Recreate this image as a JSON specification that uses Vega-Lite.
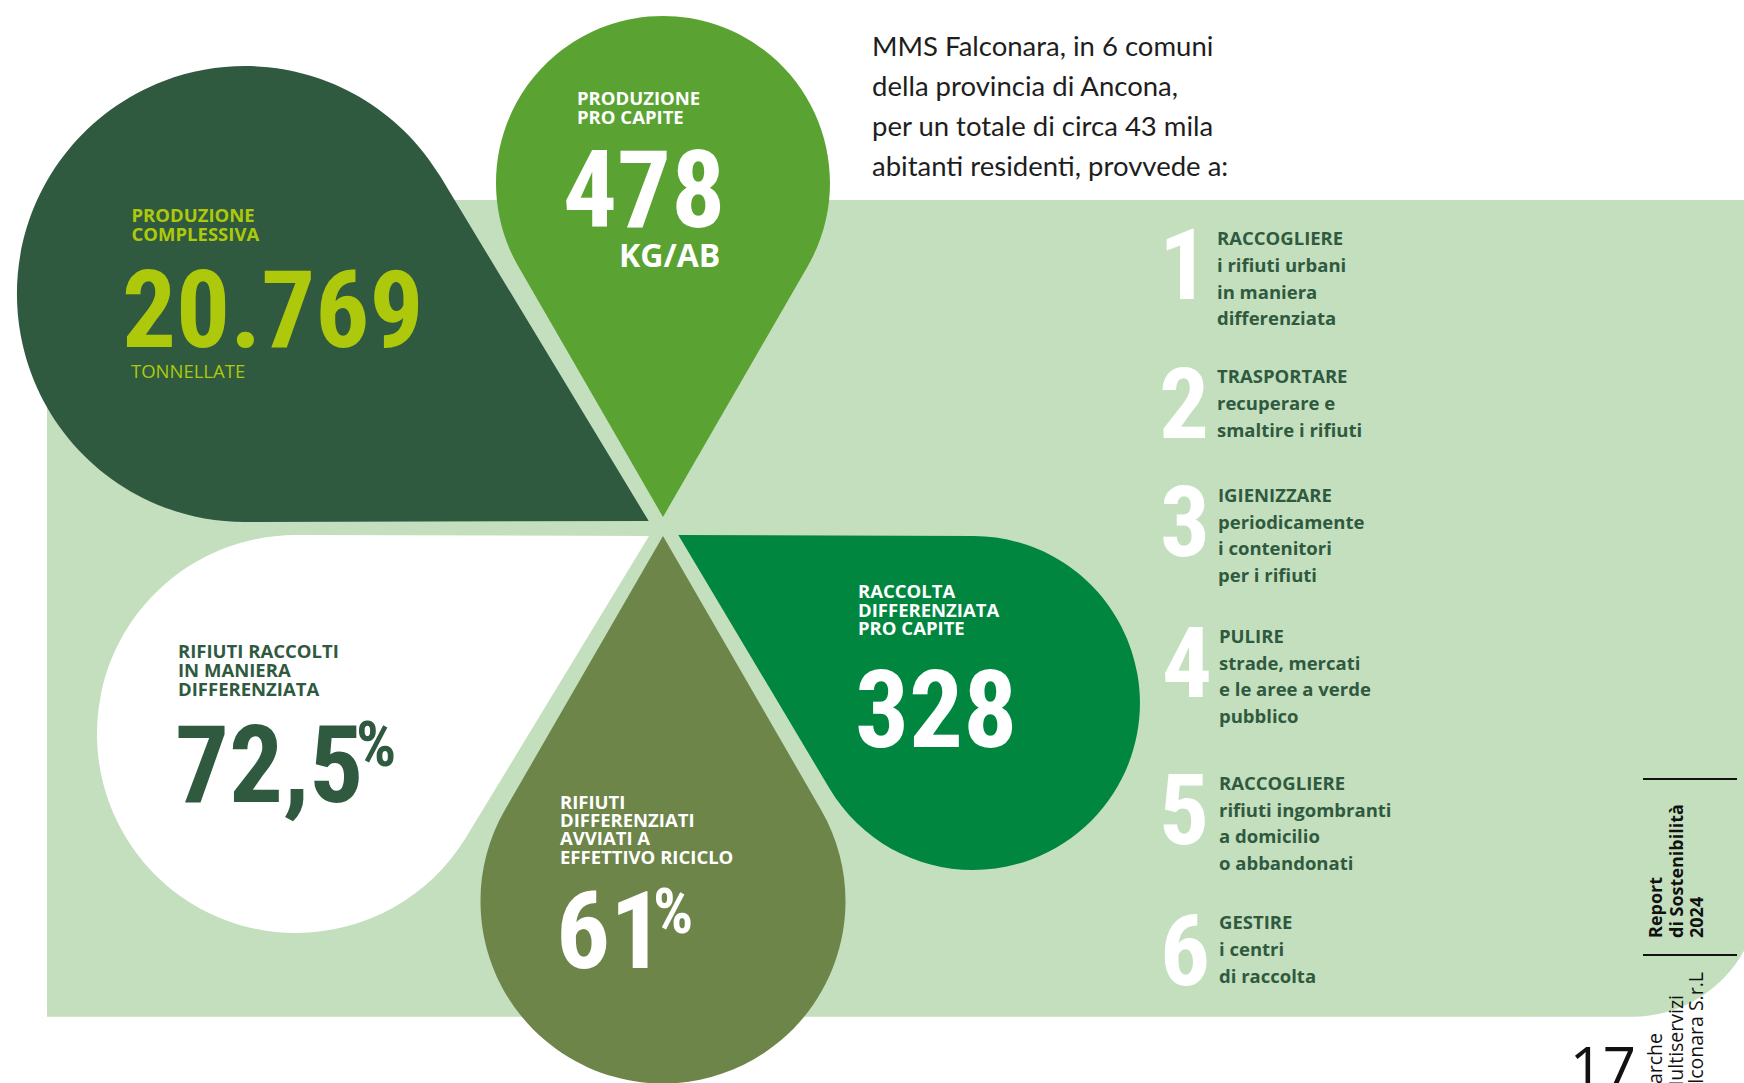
{
  "$schema": "https://vega.github.io/schema/vega-lite/v6.json",
  "width": 1744,
  "height": 1083,
  "autosize": {"type": "none"},
  "padding": 0,
  "background": "#ffffff",
  "config": {"view": {"stroke": null}},
  "datasets": {
    "panel": [{"x": 47, "x2": 1760, "y": 200, "y2": 1016.7}],
    "petals": [
      {"petal": "Produzione complessiva", "x": 245, "y": 294},
      {"petal": "Produzione pro capite", "x": 663, "y": 183},
      {"petal": "Raccolta differenziata pro capite", "x": 973, "y": 703},
      {"petal": "Rifiuti raccolti in maniera differenziata", "x": 296, "y": 734},
      {"petal": "Rifiuti differenziati avviati a riciclo", "x": 663, "y": 901}
    ],
    "statLabels": [
      {"petal": "Produzione complessiva", "label": "PRODUZIONE", "x": 131.5, "y": 222},
      {"petal": "Produzione complessiva", "label": "COMPLESSIVA", "x": 131.5, "y": 241},
      {"petal": "Produzione pro capite", "label": "PRODUZIONE", "x": 577, "y": 105},
      {"petal": "Produzione pro capite", "label": "PRO CAPITE", "x": 577, "y": 124},
      {"petal": "Raccolta differenziata pro capite", "label": "RACCOLTA", "x": 858, "y": 598.3},
      {"petal": "Raccolta differenziata pro capite", "label": "DIFFERENZIATA", "x": 858, "y": 616.6},
      {"petal": "Raccolta differenziata pro capite", "label": "PRO CAPITE", "x": 858, "y": 635},
      {"petal": "Rifiuti raccolti in maniera differenziata", "label": "RIFIUTI RACCOLTI", "x": 178, "y": 658.4},
      {"petal": "Rifiuti raccolti in maniera differenziata", "label": "IN MANIERA", "x": 178, "y": 677.4},
      {"petal": "Rifiuti raccolti in maniera differenziata", "label": "DIFFERENZIATA", "x": 178, "y": 696.2},
      {"petal": "Rifiuti differenziati avviati a riciclo", "label": "RIFIUTI", "x": 560, "y": 808.7},
      {"petal": "Rifiuti differenziati avviati a riciclo", "label": "DIFFERENZIATI", "x": 560, "y": 827},
      {"petal": "Rifiuti differenziati avviati a riciclo", "label": "AVVIATI A", "x": 560, "y": 845.3},
      {"petal": "Rifiuti differenziati avviati a riciclo", "label": "EFFETTIVO RICICLO", "x": 560, "y": 864}
    ],
    "bigNumbers": [
      {"petal": "Produzione complessiva", "label": "20.769", "x": 122, "y": 347},
      {"petal": "Produzione pro capite", "label": "478", "x": 563, "y": 227},
      {"petal": "Raccolta differenziata pro capite", "label": "328", "x": 855, "y": 747},
      {"petal": "Rifiuti raccolti in maniera differenziata", "label": "72,5", "x": 175, "y": 801.5},
      {"petal": "Rifiuti differenziati avviati a riciclo", "label": "61", "x": 556, "y": 968}
    ],
    "percents": [
      {"petal": "Rifiuti raccolti in maniera differenziata", "label": "%", "x": 356, "y": 766},
      {"petal": "Rifiuti differenziati avviati a riciclo", "label": "%", "x": 653, "y": 933}
    ],
    "units": [{"label": "KG/AB", "x": 619, "y": 267}],
    "tonnes": [{"label": "TONNELLATE", "x": 131, "y": 378}],
    "intro": [
      {"label": "MMS Falconara, in 6 comuni", "x": 872, "y": 56},
      {"label": "della provincia di Ancona,", "x": 872, "y": 96},
      {"label": "per un totale di circa 43 mila", "x": 872, "y": 136},
      {"label": "abitanti residenti, provvede a:", "x": 872, "y": 175.7}
    ],
    "listNumbers": [
      {"label": "1", "x": 1209, "y": 299},
      {"label": "2", "x": 1209, "y": 438},
      {"label": "3", "x": 1210, "y": 556},
      {"label": "4", "x": 1212, "y": 697},
      {"label": "5", "x": 1209, "y": 844},
      {"label": "6", "x": 1210, "y": 985}
    ],
    "listText": [
      {"label": "RACCOGLIERE", "x": 1217, "y": 245},
      {"label": "i rifiuti urbani", "x": 1217, "y": 272},
      {"label": "in maniera", "x": 1217, "y": 298.5},
      {"label": "differenziata", "x": 1217, "y": 325.2},
      {"label": "TRASPORTARE", "x": 1217, "y": 383},
      {"label": "recuperare e", "x": 1217, "y": 410},
      {"label": "smaltire i rifiuti", "x": 1217, "y": 437},
      {"label": "IGIENIZZARE", "x": 1218, "y": 502},
      {"label": "periodicamente", "x": 1218, "y": 528.6},
      {"label": "i contenitori", "x": 1218, "y": 555.3},
      {"label": "per i rifiuti", "x": 1218, "y": 582},
      {"label": "PULIRE", "x": 1219, "y": 643.3},
      {"label": "strade, mercati", "x": 1219, "y": 669.5},
      {"label": "e le aree a verde", "x": 1219, "y": 696.3},
      {"label": "pubblico", "x": 1219, "y": 723.2},
      {"label": "RACCOGLIERE", "x": 1219, "y": 790},
      {"label": "rifiuti ingombranti", "x": 1219, "y": 816.6},
      {"label": "a domicilio", "x": 1219, "y": 843.2},
      {"label": "o abbandonati", "x": 1219, "y": 870},
      {"label": "GESTIRE", "x": 1219, "y": 929.3},
      {"label": "i centri", "x": 1219, "y": 956},
      {"label": "di raccolta", "x": 1219, "y": 982.6}
    ],
    "footerBold": [
      {"label": "Report", "x": 1662, "y": 938},
      {"label": "di Sostenibilità", "x": 1683, "y": 938},
      {"label": "2024", "x": 1703, "y": 938}
    ],
    "footerRegular": [
      {"label": "Marche", "x": 1662, "y": 1033},
      {"label": "Multiservizi", "x": 1683, "y": 995},
      {"label": "Falconara S.r.L", "x": 1703, "y": 972}
    ],
    "pageNumber": [{"label": "17", "x": 1636, "y": 1089}],
    "rules": [
      {"x": 1643, "x2": 1737, "y": 779},
      {"x": 1643, "x2": 1737, "y": 955}
    ]
  },
  "encoding": {
    "x": {"field": "x", "type": "quantitative", "scale": {"domain": [0, 1744], "nice": false, "zero": false}, "axis": null},
    "y": {"field": "y", "type": "quantitative", "scale": {"domain": [0, 1083], "nice": false, "zero": false, "reverse": true}, "axis": null}
  },
  "resolve": {"scale": {"color": "independent"}},
  "layer": [
    {
      "data": {"name": "panel"},
      "mark": {"type": "rect", "color": "#C4DFBD", "cornerRadiusBottomRight": 128},
      "encoding": {
        "x2": {"field": "x2"},
        "y2": {"field": "y2"}
      }
    },
    {
      "data": {"name": "petals"},
      "mark": {"type": "point", "filled": true, "opacity": 1, "strokeWidth": 0, "size": 40000},
      "encoding": {
        "color": {
          "field": "petal", "type": "nominal", "legend": null,
          "scale": {
            "domain": ["Produzione complessiva", "Produzione pro capite", "Raccolta differenziata pro capite", "Rifiuti raccolti in maniera differenziata", "Rifiuti differenziati avviati a riciclo"],
            "range": ["#2F5A40", "#5AA333", "#00863F", "#FFFFFF", "#6E854A"]
          }
        },
        "shape": {
          "field": "petal", "type": "nominal", "legend": null,
          "scale": {
            "domain": ["Produzione complessiva", "Produzione pro capite", "Raccolta differenziata pro capite", "Rifiuti raccolti in maniera differenziata", "Rifiuti differenziati avviati a riciclo"],
            "range": [
              "M4.037,2.27 L0.006,2.28 A2.28,2.28 0 1 1 1.951,-1.179 Z",
              "M0,3.34 L-1.446,0.835 A1.67,1.67 0 1 1 1.446,0.835 Z",
              "M-2.947,-1.68 L0.006,-1.67 A1.67,1.67 0 1 1 -1.435,0.855 Z",
              "M3.53,-1.98 L1.701,1.033 A1.99,1.99 0 1 1 0.006,-1.99 Z",
              "M0,-3.65 L1.58,-0.9125 A1.825,1.825 0 1 1 -1.58,-0.9125 Z"
            ]
          }
        }
      }
    },
    {
      "data": {"name": "statLabels"},
      "mark": {"type": "text", "align": "left", "baseline": "alphabetic", "font": "Open Sans", "fontWeight": "bold", "fontSize": 18.5},
      "encoding": {
        "text": {"field": "label", "type": "nominal"},
        "color": {
          "field": "petal", "type": "nominal", "legend": null,
          "scale": {
            "domain": ["Produzione complessiva", "Produzione pro capite", "Raccolta differenziata pro capite", "Rifiuti raccolti in maniera differenziata", "Rifiuti differenziati avviati a riciclo"],
            "range": ["#AEC90B", "#FFFFFF", "#FFFFFF", "#2F5A40", "#FFFFFF"]
          }
        }
      }
    },
    {
      "data": {"name": "bigNumbers"},
      "mark": {"type": "text", "align": "left", "baseline": "alphabetic", "font": "Roboto Condensed, Liberation Sans, sans-serif", "fontWeight": "bold", "fontSize": 107},
      "encoding": {
        "text": {"field": "label", "type": "nominal"},
        "color": {
          "field": "petal", "type": "nominal", "legend": null,
          "scale": {
            "domain": ["Produzione complessiva", "Produzione pro capite", "Raccolta differenziata pro capite", "Rifiuti raccolti in maniera differenziata", "Rifiuti differenziati avviati a riciclo"],
            "range": ["#AEC90B", "#FFFFFF", "#FFFFFF", "#2F5A40", "#FFFFFF"]
          }
        }
      }
    },
    {
      "data": {"name": "percents"},
      "mark": {"type": "text", "align": "left", "baseline": "alphabetic", "font": "Roboto Condensed, Liberation Sans, sans-serif", "fontWeight": "bold", "fontSize": 63},
      "encoding": {
        "text": {"field": "label", "type": "nominal"},
        "color": {
          "field": "petal", "type": "nominal", "legend": null,
          "scale": {
            "domain": ["Rifiuti raccolti in maniera differenziata", "Rifiuti differenziati avviati a riciclo"],
            "range": ["#2F5A40", "#FFFFFF"]
          }
        }
      }
    },
    {
      "data": {"name": "units"},
      "mark": {"type": "text", "align": "left", "baseline": "alphabetic", "font": "Open Sans", "fontWeight": "bold", "fontSize": 32, "color": "#FFFFFF"},
      "encoding": {"text": {"field": "label", "type": "nominal"}}
    },
    {
      "data": {"name": "tonnes"},
      "mark": {"type": "text", "align": "left", "baseline": "alphabetic", "font": "Open Sans", "fontWeight": "normal", "fontSize": 18.5, "color": "#AEC90B"},
      "encoding": {"text": {"field": "label", "type": "nominal"}}
    },
    {
      "data": {"name": "intro"},
      "mark": {"type": "text", "align": "left", "baseline": "alphabetic", "font": "Lato", "fontWeight": "normal", "fontSize": 27.5, "color": "#1E1E1E"},
      "encoding": {"text": {"field": "label", "type": "nominal"}}
    },
    {
      "data": {"name": "listNumbers"},
      "mark": {"type": "text", "align": "right", "baseline": "alphabetic", "font": "Roboto Condensed, Liberation Sans, sans-serif", "fontWeight": "bold", "fontSize": 99, "color": "#FFFFFF"},
      "encoding": {"text": {"field": "label", "type": "nominal"}}
    },
    {
      "data": {"name": "listText"},
      "mark": {"type": "text", "align": "left", "baseline": "alphabetic", "font": "Open Sans", "fontWeight": "bold", "fontSize": 18.5, "color": "#2F5A40"},
      "encoding": {"text": {"field": "label", "type": "nominal"}}
    },
    {
      "data": {"name": "footerBold"},
      "mark": {"type": "text", "align": "left", "baseline": "alphabetic", "angle": 270, "font": "Open Sans", "fontWeight": "bold", "fontSize": 18, "color": "#111111"},
      "encoding": {"text": {"field": "label", "type": "nominal"}}
    },
    {
      "data": {"name": "footerRegular"},
      "mark": {"type": "text", "align": "right", "baseline": "alphabetic", "angle": 270, "font": "Open Sans", "fontWeight": "normal", "fontSize": 19.5, "color": "#111111"},
      "encoding": {"text": {"field": "label", "type": "nominal"}}
    },
    {
      "data": {"name": "pageNumber"},
      "mark": {"type": "text", "align": "right", "baseline": "alphabetic", "font": "Open Sans", "fontWeight": "normal", "fontSize": 58, "color": "#111111"},
      "encoding": {"text": {"field": "label", "type": "nominal"}}
    },
    {
      "data": {"name": "rules"},
      "mark": {"type": "rule", "color": "#111111", "strokeWidth": 2},
      "encoding": {"x2": {"field": "x2"}}
    }
  ]
}
